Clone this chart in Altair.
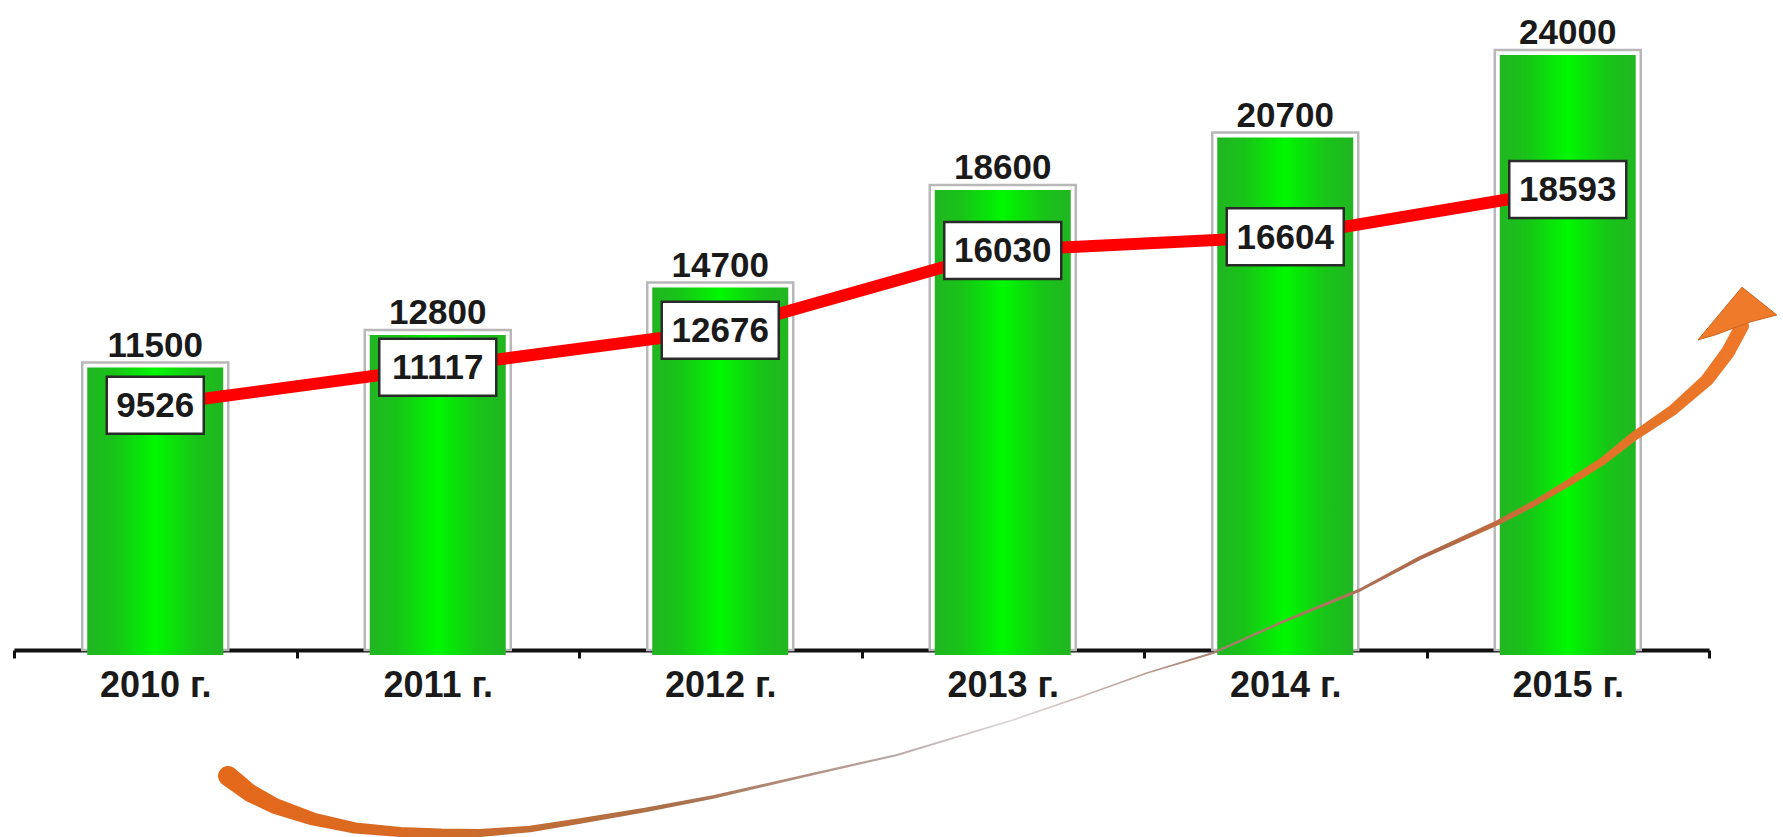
import altair as alt
import pandas as pd

# ---- chart values ----
years = ["2010 г.", "2011 г.", "2012 г.", "2013 г.", "2014 г.", "2015 г."]
bar_values = [11500, 12800, 14700, 18600, 20700, 24000]
line_values = [9526, 11117, 12676, 16030, 16604, 18593]

# ---- decorative swoosh arrow (page-pixel trace of the reference's drawing) ----
arrow_x = [228, 250, 275, 313, 355, 400, 440, 480, 530, 580, 645, 713, 813, 897, 1013,
           1080, 1147, 1213, 1280, 1360, 1420, 1497, 1535, 1570, 1603, 1633, 1673,
           1707, 1728, 1742]
arrow_y = [776, 793, 806, 819, 828, 832, 833, 833, 829, 821, 810, 797, 774, 755, 720,
           697, 673, 653, 623, 590, 558, 523, 503, 482, 461, 437, 410,
           380, 352, 326]
arrow_w = [20, 18, 16, 13, 11, 10, 9, 8, 6.5, 5.5, 4.5, 3.5, 2.5, 2, 1.6,
           1.7, 1.8, 2, 2.5, 3, 3.8, 5, 6, 7, 8, 9, 11,
           13, 14, 14]
head_x = [1737]
head_y = [315]

FONT = "Liberation Sans"
LEFT = 14
W, H = 1695, 650

df = pd.DataFrame({"year": years, "bar": bar_values, "line": line_values})
arrow_df = pd.DataFrame({"ax": [v - LEFT for v in arrow_x], "ay": arrow_y,
                         "aw": arrow_w, "o": list(range(len(arrow_x)))})
head_df = pd.DataFrame({"hx": [v - LEFT for v in head_x], "hy": head_y})

X = alt.X("year:N", sort=years,
          scale=alt.Scale(paddingInner=0, paddingOuter=0),
          axis=alt.Axis(title=None, labelFontSize=36, labelFontWeight="bold",
                        labelFont=FONT, labelColor="#1a1a1a", labelAngle=0,
                        domainColor="#111111", domainWidth=4,
                        tickColor="#111111", tickWidth=3, tickSize=8,
                        tickBand="extent", labelPadding=10, grid=False))

yb = alt.Scale(domain=[0, 26000], nice=False, zero=True)
yl = alt.Scale(domain=[-760, 26550], nice=False, zero=False)

green = alt.Gradient(
    gradient="linear", x1=0, x2=1, y1=0, y2=0,
    stops=[alt.GradientStop(color="#22b522", offset=0),
           alt.GradientStop(color="#18c418", offset=0.2),
           alt.GradientStop(color="#00f800", offset=0.5),
           alt.GradientStop(color="#18c418", offset=0.8),
           alt.GradientStop(color="#22b522", offset=1)])

base = alt.Chart(df)

outer = base.mark_bar(size=146, fill="white", stroke="#b8b8b8", strokeWidth=2.5,
                      y2Offset=2).encode(
    x=X, y=alt.Y("bar:Q", scale=yb, axis=None))
inner = base.mark_bar(size=136, color=green, yOffset=5).encode(
    x=X, y=alt.Y("bar:Q", scale=yb, axis=None))
bar_labels = base.mark_text(dy=-6, baseline="alphabetic", fontSize=35,
                            fontWeight="bold", font=FONT, color="#1a1a1a").encode(
    x=X, y=alt.Y("bar:Q", scale=yb, axis=None), text=alt.Text("bar:Q", format="d"))
bars = alt.layer(outer, inner, bar_labels)

swoosh = alt.Gradient(
    gradient="linear", x1=0, x2=1, y1=0, y2=0,
    stops=[alt.GradientStop(color="#e5681a", offset=0),
           alt.GradientStop(color="#d86a22", offset=0.12),
           alt.GradientStop(color="#a8704c", offset=0.30),
           alt.GradientStop(color="#b8a8a8", offset=0.44),
           alt.GradientStop(color="#dcd6d6", offset=0.52),
           alt.GradientStop(color="#a88070", offset=0.65),
           alt.GradientStop(color="#b06848", offset=0.80),
           alt.GradientStop(color="#e07228", offset=0.90),
           alt.GradientStop(color="#f07828", offset=1)])

trail = alt.Chart(arrow_df).mark_trail(color=swoosh).encode(
    x=alt.X("ax:Q", scale=None, axis=None),
    y=alt.Y("ay:Q", scale=None, axis=None),
    size=alt.Size("aw:Q", scale=None, legend=None),
    order="o:Q")
head = alt.Chart(head_df).mark_point(
    shape="M0.12,-0.67L0.96,0L0.31,0.17L-0.53,0.48L-0.94,0.6Z",
    size=6889, filled=True, fill="#ef7a2a", stroke="#c9651f", strokeWidth=1,
    opacity=1).encode(
    x=alt.X("hx:Q", scale=None, axis=None),
    y=alt.Y("hy:Q", scale=None, axis=None))
arrow = alt.layer(trail, head)

line = base.mark_line(color="#ff0000", strokeWidth=12).encode(
    x=X, y=alt.Y("line:Q", scale=yl, axis=None))
boxes = base.mark_bar(fill="white", stroke="#2a2a2a", strokeWidth=2.5,
                      yOffset=-28.5, y2Offset=28.5).transform_calculate(
    bw="17 + 20 * length(toString(datum.line))").encode(
    x=X, y=alt.Y("line:Q", scale=yl, axis=None), y2="line:Q",
    size=alt.Size("bw:Q", scale=None, legend=None))
box_text = base.mark_text(baseline="middle", dy=1, fontSize=35, fontWeight="bold",
                          font=FONT, color="#1a1a1a").encode(
    x=X, y=alt.Y("line:Q", scale=yl, axis=None), text=alt.Text("line:Q", format="d"))
line_group = alt.layer(line, boxes, box_text)

chart = alt.layer(bars, arrow, line_group).resolve_scale(
    y="independent", size="independent").properties(
    width=W, height=H,
    autosize=alt.AutoSizeParams(type="none"),
    padding={"left": LEFT, "top": 0, "right": 1783 - LEFT - W, "bottom": 837 - H},
    background="white",
).configure_view(stroke=None)

chart.save("out.html", embed_options={"renderer": "svg", "actions": False})
